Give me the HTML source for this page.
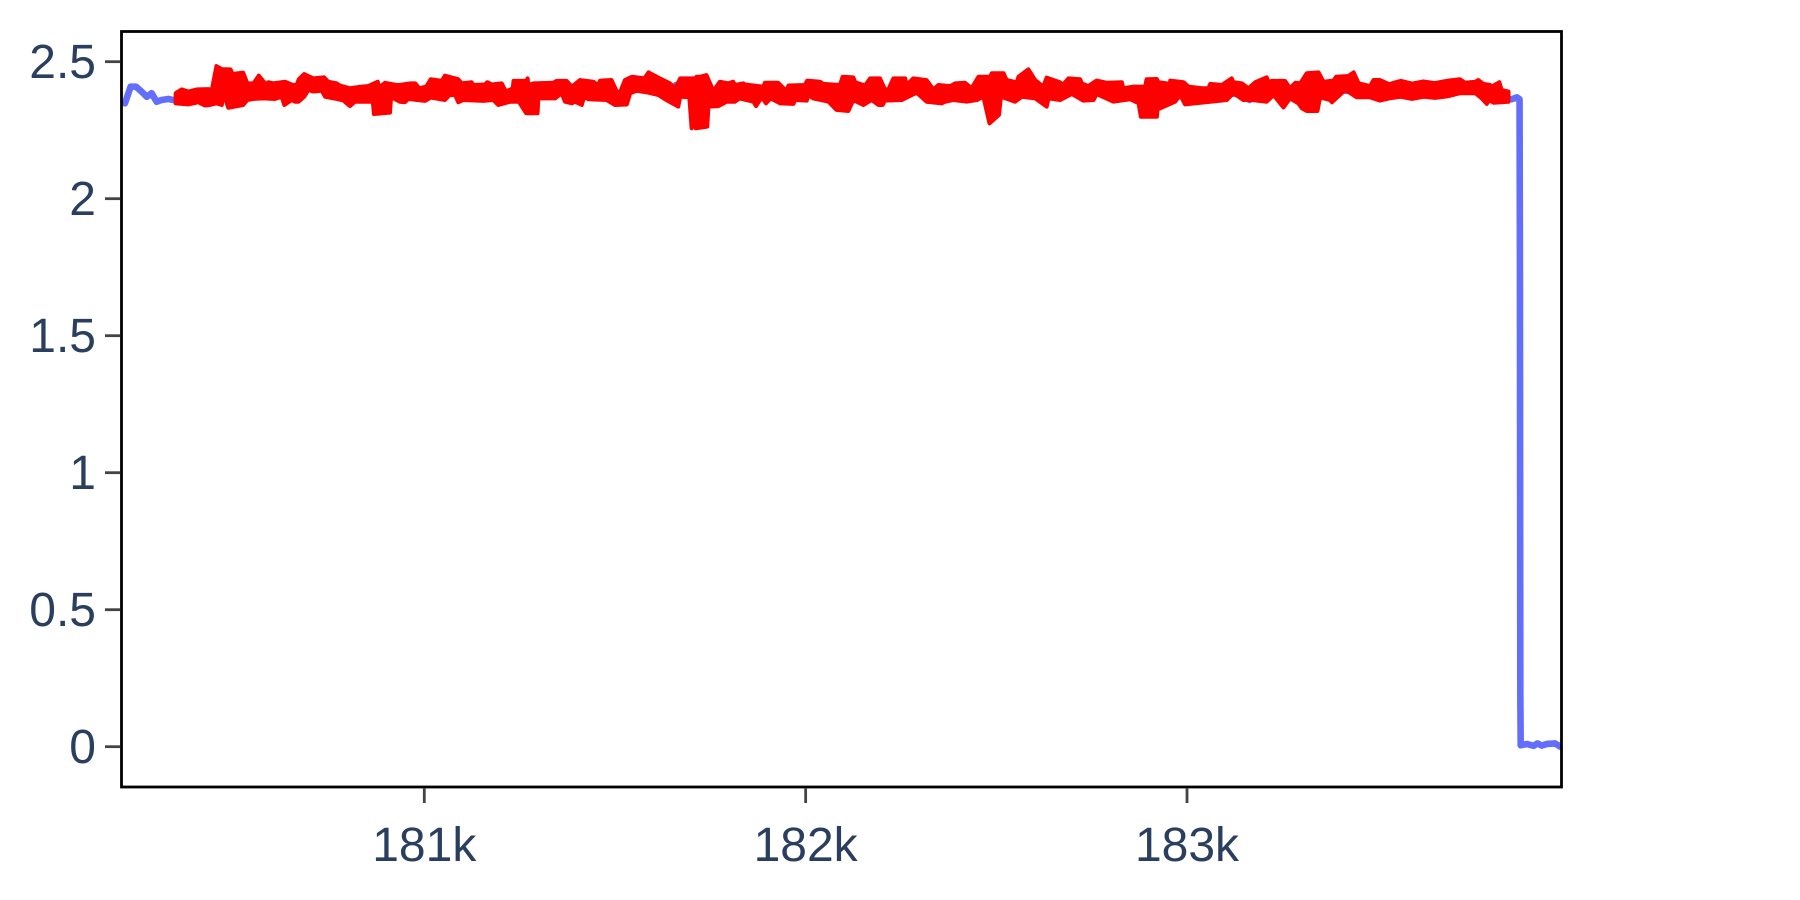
<!DOCTYPE html>
<html lang="en">
<head>
<meta charset="utf-8">
<title>Signal chart</title>
<style>
html,body{margin:0;padding:0;background:#fff;width:1800px;height:900px;overflow:hidden}
svg{display:block}
text{font-family:"Liberation Sans",Arial,sans-serif;font-size:48px;fill:#2a3f5f}
</style>
</head>
<body>
<svg id="chart" xmlns="http://www.w3.org/2000/svg" width="1800" height="900" viewBox="0 0 1800 900">
<defs><clipPath id="plot-clip"><rect x="121.5" y="31.5" width="1440" height="755.5"/></clipPath></defs>
<rect x="0" y="0" width="1800" height="900" fill="#ffffff"/>
<g id="series" clip-path="url(#plot-clip)"></g>
<rect x="121.5" y="31.5" width="1440" height="755.5" fill="none" stroke="#000000" stroke-width="2.8"/>
<g id="axes"></g>
</svg>
<script>
const xTickValues = [181000, 182000, 183000];
const xTickLabels = ["181k", "182k", "183k"];
const yTickValues = [0, 0.5, 1, 1.5, 2, 2.5];
const yTickLabels = ["0", "0.5", "1", "1.5", "2", "2.5"];

const blueX = [180211,180215,180230,180244,180263,180272,180285,180298,180311,180329,180342,180351,180400,180412,180425,180500,180525,180532,180545,180600,180700,180800,180840,180849,180858,180950,180963,180975,181100,181222,181232,181245,181400,181500,181530,181540,181615,181625,181635,181650,181660,181672,181720,181800,181960,181968,181978,182100,182165,182173,182182,182200,182208,182220,182300,182410,182418,182421,182430,182500,182600,182690,182700,182710,182800,182950,183060,183155,183164,183175,183300,183450,183600,183716,183800,183839,183852,183865,183872,183873,183873,183874,183874,183875,183891,183909,183919,183930,183944,183965,183979,183990];
const blueY = [2.360,2.348,2.409,2.409,2.385,2.372,2.385,2.354,2.360,2.364,2.360,2.363,2.372,2.391,2.372,2.400,2.400,2.375,2.390,2.390,2.415,2.370,2.380,2.406,2.380,2.385,2.415,2.390,2.390,2.375,2.362,2.390,2.385,2.365,2.400,2.410,2.410,2.426,2.400,2.390,2.415,2.400,2.360,2.385,2.385,2.408,2.385,2.380,2.400,2.422,2.400,2.390,2.389,2.385,2.390,2.390,2.415,2.364,2.385,2.390,2.400,2.410,2.431,2.410,2.390,2.375,2.380,2.385,2.360,2.390,2.390,2.395,2.395,2.410,2.385,2.363,2.363,2.370,2.363,1.76,1.75,0.22,0.20,0.005,0.010,0.003,0.012,0.004,0.010,0.012,0.000,0.000];

const bandUpperX = [180348,180364,180381,180405,180435,180442,180455,180469,180492,180497,180525,180536,180552,180566,180585,180591,180604,180635,180655,180665,180671,180685,180709,180737,180748,180770,180779,180805,180836,180853,180878,180882,180897,180927,180936,180963,180976,180987,181005,181017,181046,181054,181089,181098,181124,181129,181159,181165,181177,181203,181214,181232,181234,181267,181271,181273,181286,181338,181347,181373,181387,181408,181443,181456,181461,181491,181505,181513,181526,181544,181577,181588,181618,181644,181658,181671,181710,181714,181723,181740,181758,181775,181797,181810,181815,181837,181841,181889,181893,181928,181949,181955,181998,182004,182038,182046,182090,182097,182125,182130,182156,182169,182195,182208,182217,182230,182261,182265,182282,182317,182335,182348,182379,182392,182418,182435,182453,182484,182488,182510,182519,182527,182554,182558,182584,182602,182623,182632,182667,182674,182689,182720,182724,182741,182763,182790,182829,182833,182860,182890,182894,182921,182925,182947,182951,182956,182991,183004,183039,183056,183061,183091,183117,183122,183144,183161,183179,183209,183214,183222,183257,183270,183284,183297,183314,183345,183358,183384,183391,183423,183437,183450,183480,183489,183506,183530,183560,183590,183620,183650,183685,183716,183729,183756,183764,183777,183795,183799,183819,183825,183843];
const bandUpperY = [2.385,2.399,2.391,2.399,2.400,2.391,2.484,2.473,2.472,2.455,2.460,2.421,2.421,2.449,2.417,2.425,2.421,2.427,2.415,2.415,2.436,2.455,2.439,2.443,2.427,2.421,2.413,2.403,2.409,2.411,2.427,2.406,2.423,2.415,2.415,2.421,2.421,2.403,2.409,2.436,2.430,2.449,2.436,2.421,2.425,2.415,2.417,2.425,2.417,2.421,2.391,2.403,2.430,2.430,2.439,2.415,2.421,2.423,2.430,2.430,2.409,2.433,2.427,2.415,2.431,2.433,2.391,2.387,2.433,2.445,2.439,2.461,2.439,2.421,2.403,2.439,2.439,2.445,2.445,2.451,2.394,2.427,2.421,2.427,2.415,2.421,2.417,2.409,2.423,2.423,2.394,2.413,2.415,2.431,2.427,2.419,2.415,2.445,2.443,2.425,2.413,2.439,2.439,2.399,2.399,2.439,2.439,2.415,2.439,2.433,2.399,2.415,2.411,2.421,2.423,2.403,2.445,2.445,2.458,2.458,2.458,2.433,2.425,2.445,2.472,2.433,2.409,2.442,2.425,2.415,2.439,2.436,2.421,2.411,2.431,2.423,2.425,2.403,2.409,2.409,2.436,2.437,2.425,2.421,2.385,2.431,2.425,2.409,2.403,2.403,2.419,2.415,2.439,2.425,2.421,2.403,2.425,2.443,2.425,2.430,2.430,2.403,2.423,2.421,2.458,2.461,2.427,2.431,2.445,2.448,2.461,2.421,2.411,2.433,2.433,2.418,2.430,2.420,2.428,2.422,2.431,2.436,2.423,2.427,2.433,2.419,2.415,2.409,2.425,2.397,2.391];
const bandLowerX = [180348,180381,180407,180425,180438,180455,180469,180473,180486,180525,180536,180552,180578,180608,180626,180633,180652,180661,180670,180685,180696,180709,180731,180740,180770,180788,180805,180818,180865,180868,180910,180913,180923,180936,180949,180958,181002,181017,181054,181066,181081,181089,181102,181155,181181,181194,181225,181248,181267,181297,181299,181343,181360,181369,181387,181395,181413,181419,181430,181478,181500,181531,181540,181557,181588,181614,181631,181666,181671,181695,181701,181710,181712,181742,181745,181771,181793,181815,181826,181863,181870,181885,181896,181908,181933,181968,181972,182003,182007,182020,182060,182081,182112,182125,182151,182173,182191,182202,182208,182252,182269,182291,182317,182357,182366,182387,182422,182449,182466,182482,182507,182512,182549,182567,182602,182632,182637,182667,182698,182728,182755,182763,182807,182851,182873,182879,182921,182923,182969,182982,182995,183061,183104,183122,183148,183170,183209,183227,183253,183270,183292,183301,183314,183342,183349,183375,183380,183401,183415,183445,183480,183506,183530,183560,183590,183620,183650,183685,183716,183756,183773,183786,183793,183804,183843];
const bandLowerY = [2.348,2.344,2.352,2.340,2.342,2.348,2.342,2.385,2.332,2.342,2.360,2.364,2.366,2.364,2.372,2.342,2.360,2.354,2.354,2.372,2.397,2.391,2.394,2.372,2.364,2.358,2.338,2.354,2.354,2.309,2.314,2.372,2.363,2.354,2.352,2.364,2.357,2.369,2.360,2.378,2.378,2.352,2.360,2.357,2.360,2.342,2.354,2.354,2.312,2.312,2.366,2.366,2.385,2.354,2.348,2.354,2.342,2.372,2.363,2.360,2.342,2.344,2.385,2.394,2.387,2.378,2.363,2.336,2.372,2.370,2.257,2.281,2.257,2.263,2.336,2.338,2.354,2.354,2.366,2.354,2.338,2.370,2.348,2.366,2.348,2.346,2.360,2.358,2.378,2.366,2.354,2.324,2.320,2.360,2.342,2.360,2.342,2.342,2.358,2.360,2.372,2.387,2.354,2.348,2.354,2.360,2.354,2.360,2.372,2.275,2.306,2.372,2.354,2.372,2.366,2.336,2.366,2.360,2.382,2.358,2.360,2.382,2.354,2.363,2.348,2.299,2.299,2.326,2.354,2.378,2.344,2.354,2.360,2.385,2.360,2.360,2.354,2.378,2.333,2.366,2.348,2.330,2.320,2.320,2.370,2.360,2.352,2.379,2.397,2.370,2.370,2.358,2.366,2.372,2.364,2.372,2.368,2.374,2.385,2.385,2.366,2.346,2.360,2.350,2.354];

const xDomain = [180206, 183982];
const yDomain = [-0.1471, 2.6102];
const plotLeft = 121.5, plotRight = 1561.5, plotTop = 31.5, plotBottom = 787;

function xScale(v) { return plotLeft + (v - xDomain[0]) / (xDomain[1] - xDomain[0]) * (plotRight - plotLeft); }
function yScale(v) { return plotBottom - (v - yDomain[0]) / (yDomain[1] - yDomain[0]) * (plotBottom - plotTop); }

const NS = "http://www.w3.org/2000/svg";
const seriesGroup = document.getElementById("series");
const axesGroup = document.getElementById("axes");

function toPoints(xs, ys) {
  return xs.map(function (x, i) { return xScale(x).toFixed(2) + "," + yScale(ys[i]).toFixed(2); });
}

const blueLine = document.createElementNS(NS, "polyline");


blueLine.setAttribute("points", toPoints(blueX, blueY).join(" "));
blueLine.setAttribute("fill", "none");
blueLine.setAttribute("stroke", "#636efa");
blueLine.setAttribute("stroke-width", "6.6");
blueLine.setAttribute("stroke-linejoin", "round");
seriesGroup.appendChild(blueLine);

const redBand = document.createElementNS(NS, "polygon");


redBand.setAttribute("points", toPoints(bandUpperX, bandUpperY).concat(toPoints(bandLowerX, bandLowerY).reverse()).join(" "));
redBand.setAttribute("fill", "#ff0000");
redBand.setAttribute("stroke", "#ff0000");
redBand.setAttribute("stroke-width", "4");
redBand.setAttribute("stroke-linejoin", "round");
seriesGroup.appendChild(redBand);

yTickValues.forEach(function (v, i) {
  const tick = document.createElementNS(NS, "line");
  
  
  tick.setAttribute("x1", 105);
  tick.setAttribute("x2", 120);
  tick.setAttribute("y1", yScale(v));
  tick.setAttribute("y2", yScale(v));
  tick.setAttribute("stroke", "#444444");
  tick.setAttribute("stroke-width", "2.8");
  axesGroup.appendChild(tick);
  const label = document.createElementNS(NS, "text");
  
  
  label.setAttribute("x", 96);
  label.setAttribute("y", yScale(v) + 16.5);
  label.setAttribute("text-anchor", "end");
  label.textContent = yTickLabels[i];
  axesGroup.appendChild(label);
});

xTickValues.forEach(function (v, i) {
  const tick = document.createElementNS(NS, "line");
  
  
  tick.setAttribute("x1", xScale(v));
  tick.setAttribute("x2", xScale(v));
  tick.setAttribute("y1", 788);
  tick.setAttribute("y2", 803);
  tick.setAttribute("stroke", "#444444");
  tick.setAttribute("stroke-width", "2.8");
  axesGroup.appendChild(tick);
  const label = document.createElementNS(NS, "text");
  
  
  label.setAttribute("x", xScale(v));
  label.setAttribute("y", 861);
  label.setAttribute("text-anchor", "middle");
  label.textContent = xTickLabels[i];
  axesGroup.appendChild(label);
});
</script>
</body>
</html>
